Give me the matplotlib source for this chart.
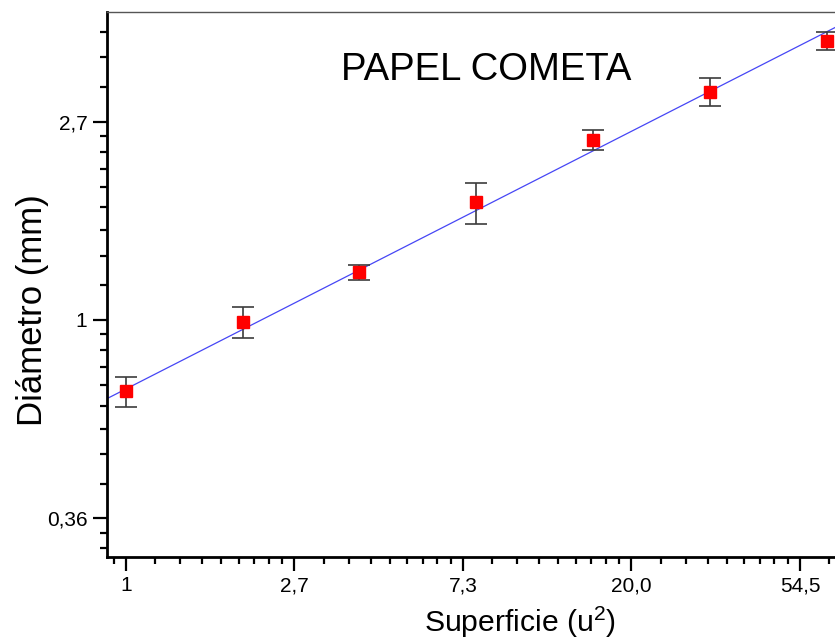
import matplotlib
matplotlib.use("Agg")
import matplotlib.pyplot as plt
import numpy as np
from matplotlib.ticker import FixedLocator, NullFormatter

plt.rcParams['font.family'] = ['Liberation Sans', 'DejaVu Sans']
plt.rcParams['mathtext.fontset'] = 'custom'
plt.rcParams['mathtext.rm'] = 'Liberation Sans'

# datos
superficie = [1, 2, 4, 8, 16, 32, 64]
diametro = [0.698, 0.990, 1.271, 1.808, 2.476, 3.159, 4.084]
error = [0.052, 0.077, 0.046, 0.187, 0.125, 0.220, 0.177]

# ajuste y = a * x^b
fit_a = 0.706
fit_b = 0.433

xticks = [1, np.e, np.e**2, np.e**3, np.e**4]
xlabels = ['1', '2,7', '7,3', '20,0', '54,5']
yticks = [np.e**-1, 1, np.e]
ylabels = ['0,36', '1', '2,7']


def minor_ln(n0, n1):
    t = []
    for n in range(n0, n1):
        a, b = np.e**n, np.e**(n + 1)
        t += [a + k * (b - a) / 9 for k in range(1, 9)]
    return t


fig = plt.figure(figsize=(8.35, 6.4), dpi=100)
ax = fig.add_axes([0.1278, 0.1302, 0.913, 0.8506])

xx = np.exp(np.linspace(-0.2, 4.6, 100))
ax.plot(xx, fit_a * xx**fit_b, color='#4646f5', lw=0.9, zorder=2)

ax.errorbar(superficie, diametro, yerr=error, fmt='s', color='#ff0000',
            markersize=8.7, ecolor='#3c3c3c', elinewidth=1.2, capsize=8,
            capthick=1.2, zorder=3)

ax.set_xscale('log')
ax.set_yscale('log')
ax.set_xlim(0.893, 82.3)
ax.set_ylim(0.3033, 4.716)

ax.xaxis.set_major_locator(FixedLocator(xticks))
ax.set_xticklabels(xlabels)
ax.xaxis.set_minor_locator(FixedLocator(minor_ln(-1, 5)))
ax.xaxis.set_minor_formatter(NullFormatter())
ax.yaxis.set_major_locator(FixedLocator(yticks))
ax.set_yticklabels(ylabels)
ax.yaxis.set_minor_locator(FixedLocator(minor_ln(-2, 2)))
ax.yaxis.set_minor_formatter(NullFormatter())

ax.tick_params(which='major', direction='out', length=10, width=1.6,
               labelsize=15, pad=4)
ax.tick_params(which='minor', direction='out', length=5, width=1.6)
ax.tick_params(top=False, right=False, which='both')

for s in ['left', 'bottom']:
    ax.spines[s].set_linewidth(2)
ax.spines['top'].set_linewidth(1)
ax.spines['top'].set_color('#555555')

ax.text(0.4976, 0.8757, 'PAPEL COMETA', transform=ax.transAxes,
        ha='center', va='baseline', fontsize=27.5)

ax.set_xlabel(r'Superficie (u$^{\mathrm{2}}$)', fontsize=21.7)
ax.xaxis.set_label_coords(0.542, -0.088)
ax.set_ylabel('Diámetro (mm)', fontsize=25)
ax.yaxis.set_label_coords(-0.076, 0.453)

fig.savefig('out.png', dpi=100)
